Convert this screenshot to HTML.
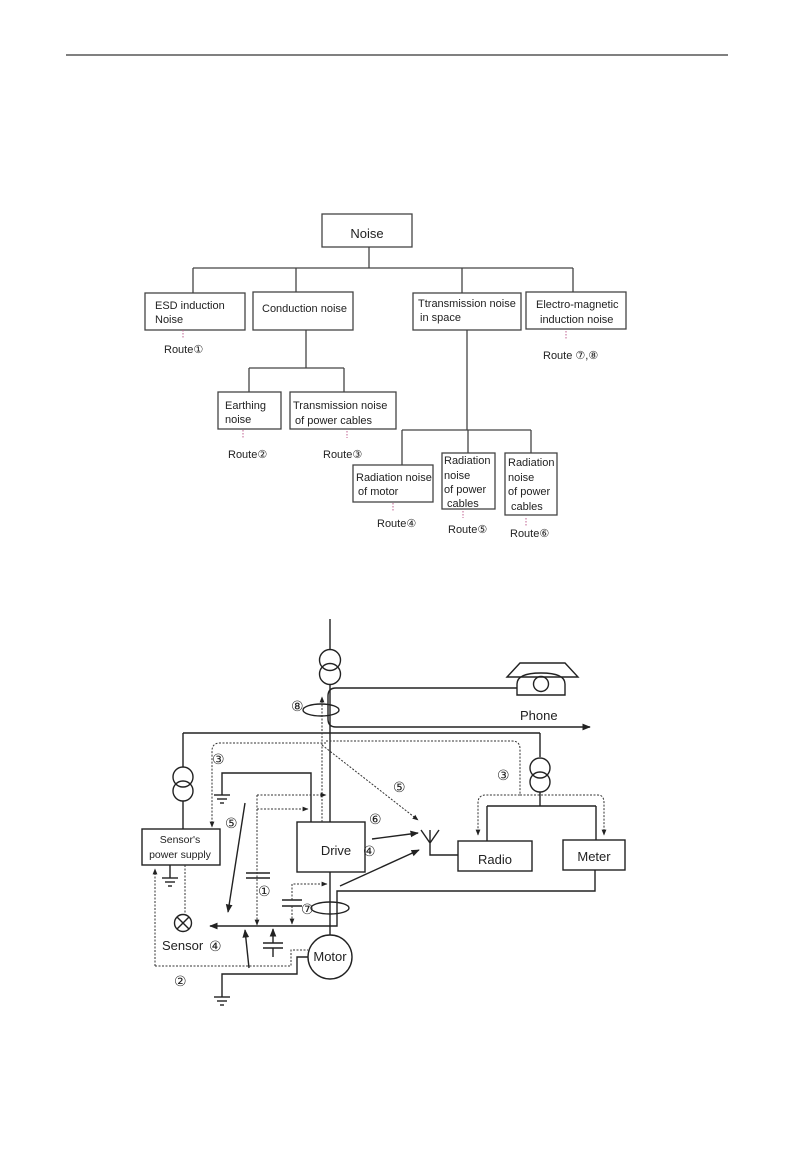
<!DOCTYPE html>
<html><head><meta charset="utf-8"><style>
html,body{margin:0;padding:0;background:#fff}
svg{display:block}
text{font-family:"Liberation Sans","DejaVu Sans",sans-serif;fill:#222}
.c{font-size:14px}
</style></head><body>
<svg width="794" height="1151" viewBox="0 0 794 1151" xmlns="http://www.w3.org/2000/svg">
<defs>
<marker id="a" viewBox="0 0 10 10" refX="9" refY="5" markerWidth="6" markerHeight="6" orient="auto"><path d="M0,1 L10,5 L0,9 z" fill="#222"/></marker>
</defs>
<line x1="66" y1="55" x2="728" y2="55" stroke="#000" stroke-width="1"/>

<g stroke="#444" stroke-width="1.3" fill="none">
<rect x="322" y="214" width="90" height="33"/>
<line x1="369" y1="247" x2="369" y2="268"/>
<line x1="193" y1="268" x2="573" y2="268"/>
<line x1="193" y1="268" x2="193" y2="293"/>
<line x1="296" y1="268" x2="296" y2="292"/>
<line x1="462" y1="268" x2="462" y2="293"/>
<line x1="573" y1="268" x2="573" y2="292"/>
<rect x="145" y="293" width="100" height="37"/>
<rect x="253" y="292" width="100" height="38"/>
<rect x="413" y="293" width="108" height="37"/>
<rect x="526" y="292" width="100" height="37"/>
<line x1="306" y1="330" x2="306" y2="368"/>
<line x1="249" y1="368" x2="344" y2="368"/>
<line x1="249" y1="368" x2="249" y2="392"/>
<line x1="344" y1="368" x2="344" y2="392"/>
<rect x="218" y="392" width="63" height="37"/>
<rect x="290" y="392" width="106" height="37"/>
<line x1="467" y1="330" x2="467" y2="430"/>
<line x1="402" y1="430" x2="531" y2="430"/>
<line x1="402" y1="430" x2="402" y2="465"/>
<line x1="468" y1="430" x2="468" y2="453"/>
<line x1="531" y1="430" x2="531" y2="453"/>
<rect x="353" y="465" width="80" height="37"/>
<rect x="442" y="453" width="53" height="56"/>
<rect x="505" y="453" width="52" height="62"/>
</g>
<g stroke="#c06090" stroke-width="1" stroke-dasharray="1.5,1.5">
<line x1="183" y1="330" x2="183" y2="338"/>
<line x1="566" y1="331" x2="566" y2="339"/>
<line x1="243" y1="430" x2="243" y2="438"/>
<line x1="347" y1="431" x2="347" y2="438"/>
<line x1="393" y1="503" x2="393" y2="511"/>
<line x1="463" y1="511" x2="463" y2="518"/>
<line x1="526" y1="518" x2="526" y2="526"/>
</g>
<g font-size="11">
<text x="367" y="238" font-size="13" text-anchor="middle">Noise</text>
<text x="155" y="309">ESD induction</text><text x="155" y="323">Noise</text>
<text x="262" y="312">Conduction noise</text>
<text x="418" y="307">Ttransmission noise</text><text x="420" y="321">in space</text>
<text x="536" y="308">Electro-magnetic</text><text x="540" y="323">induction noise</text>
<text x="225" y="409">Earthing</text><text x="225" y="423">noise</text>
<text x="293" y="409">Transmission noise</text><text x="295" y="424">of power cables</text>
<text x="356" y="481">Radiation noise</text><text x="358" y="495">of motor</text>
<text x="444" y="464">Radiation</text><text x="444" y="479">noise</text><text x="444" y="493">of power</text><text x="447" y="507">cables</text>
<text x="508" y="466">Radiation</text><text x="508" y="481">noise</text><text x="508" y="495">of power</text><text x="511" y="510">cables</text>
<text x="164" y="353">Route①</text>
<text x="543" y="359">Route ⑦,⑧</text>
<text x="228" y="458">Route②</text>
<text x="323" y="458">Route③</text>
<text x="377" y="527">Route④</text>
<text x="448" y="533">Route⑤</text>
<text x="510" y="537">Route⑥</text>
</g>

<g stroke="#222" stroke-width="1.4" fill="none">
<line x1="330" y1="619" x2="330" y2="649"/>
<circle cx="330" cy="660" r="10.5"/><circle cx="330" cy="674" r="10.5"/>
<line x1="330" y1="685" x2="330" y2="822"/>
<path d="M517,688 L336,688 Q328,688 328,696 L328,719 Q328,727 336,727 L590,727" marker-end="url(#a)"/>
<path d="M507,677 L520,663 L565,663 L578,677 Z"/>
<path d="M517,695 L517,684 Q517,673 541,673 Q565,673 565,684 L565,695 Z"/>
<circle cx="541" cy="684" r="7.5"/>
<ellipse cx="321" cy="710" rx="18" ry="6"/>
<line x1="183" y1="733" x2="540" y2="733"/>
<line x1="183" y1="733" x2="183" y2="767"/>
<circle cx="183" cy="777" r="10"/><circle cx="183" cy="791" r="10"/>
<line x1="183" y1="801" x2="183" y2="829"/>
<rect x="142" y="829" width="78" height="36"/>
<line x1="540" y1="733" x2="540" y2="757"/>
<circle cx="540" cy="768" r="10"/><circle cx="540" cy="782" r="10"/>
<line x1="540" y1="792" x2="540" y2="806"/>
<line x1="487" y1="806" x2="596" y2="806"/>
<line x1="487" y1="806" x2="487" y2="841"/>
<line x1="596" y1="806" x2="596" y2="840"/>
<rect x="458" y="841" width="74" height="30"/>
<rect x="563" y="840" width="62" height="30"/>
<rect x="297" y="822" width="68" height="50"/>
<path d="M311,822 L311,773 L222,773 L222,795"/>
<line x1="214" y1="795" x2="230" y2="795"/><line x1="217" y1="799" x2="227" y2="799"/><line x1="220" y1="803" x2="224" y2="803"/>
<line x1="330" y1="872" x2="330" y2="935"/>
<ellipse cx="330" cy="908" rx="19" ry="6"/>
<circle cx="330" cy="957" r="22"/>
<path d="M595,870 L595,891 L337,891 L337,926 L210,926" marker-end="url(#a)"/>
<path d="M421,830 L430,843 L439,830 M430,830 L430,855 L458,855"/>
<line x1="372" y1="839" x2="418" y2="833" marker-end="url(#a)"/>
<line x1="340" y1="886" x2="419" y2="850" marker-end="url(#a)"/>
<line x1="245" y1="803" x2="228" y2="912" marker-end="url(#a)"/>
<line x1="249" y1="968" x2="245" y2="930" marker-end="url(#a)"/>
<line x1="170" y1="865" x2="170" y2="878"/>
<line x1="162" y1="878" x2="178" y2="878"/><line x1="165" y1="882" x2="175" y2="882"/><line x1="168" y1="886" x2="172" y2="886"/>
<circle cx="183" cy="923" r="8.5"/>
<line x1="177" y1="917" x2="189" y2="929"/><line x1="189" y1="917" x2="177" y2="929"/>
<line x1="246" y1="873" x2="270" y2="873"/><line x1="246" y1="878" x2="270" y2="878"/>
<line x1="263" y1="943" x2="283" y2="943"/><line x1="263" y1="948" x2="283" y2="948"/>
<line x1="273" y1="948" x2="273" y2="957"/>
<line x1="273" y1="943" x2="273" y2="929" marker-end="url(#a)"/>
<line x1="282" y1="900" x2="302" y2="900"/><line x1="282" y1="906" x2="302" y2="906"/>
<path d="M308,957 L297,957 L297,974 L222,974 L222,997"/>
<line x1="214" y1="997" x2="230" y2="997"/><line x1="217" y1="1001" x2="227" y2="1001"/><line x1="220" y1="1005" x2="224" y2="1005"/>
</g>
<g stroke="#333" stroke-width="1" fill="none" stroke-dasharray="2,1.5">
<line x1="322" y1="822" x2="322" y2="697" marker-end="url(#a)"/>
<path d="M326,743 L220,743 Q212,743 212,751 L212,827" marker-end="url(#a)"/>
<path d="M326,741 L512,741 Q520,741 520,749 L520,795 L486,795 Q478,795 478,803 L478,835" marker-end="url(#a)"/>
<path d="M520,795 L598,795 Q604,795 604,803 L604,835" marker-end="url(#a)"/>
<line x1="322" y1="745" x2="418" y2="820" marker-end="url(#a)"/>
<path d="M257,795 L326,795" marker-end="url(#a)"/>
<path d="M257,809 L308,809" marker-end="url(#a)"/>
<path d="M257,795 L257,925" marker-end="url(#a)"/>
<path d="M292,900 L292,884 L327,884" marker-end="url(#a)"/>
<path d="M292,906 L292,924" marker-end="url(#a)"/>
<line x1="185" y1="865" x2="185" y2="914"/>
<path d="M155,966 L155,869" marker-end="url(#a)"/>
<path d="M155,966 L291,966 L291,950 L308,950"/>
</g>
<g font-size="12">
<text x="336" y="855" text-anchor="middle" font-size="13">Drive</text>
<text x="495" y="864" text-anchor="middle" font-size="13">Radio</text>
<text x="594" y="861" text-anchor="middle" font-size="13">Meter</text>
<text x="330" y="961" text-anchor="middle" font-size="13">Motor</text>
<text x="520" y="720" font-size="13">Phone</text>
<text x="180" y="843" text-anchor="middle" font-size="10.5">Sensor's</text>
<text x="180" y="858" text-anchor="middle" font-size="10.5">power supply</text>
<text x="162" y="950" font-size="13">Sensor</text>
<text x="209" y="951" class="c">④</text>
<text x="291" y="711" class="c">⑧</text>
<text x="212" y="764" class="c">③</text>
<text x="497" y="780" class="c">③</text>
<text x="225" y="828" class="c">⑤</text>
<text x="393" y="792" class="c">⑤</text>
<text x="369" y="824" class="c">⑥</text>
<text x="363" y="856" class="c">④</text>
<text x="258" y="896" class="c">①</text>
<text x="301" y="914" class="c">⑦</text>
<text x="174" y="986" class="c">②</text>
</g>
</svg>
</body></html>
